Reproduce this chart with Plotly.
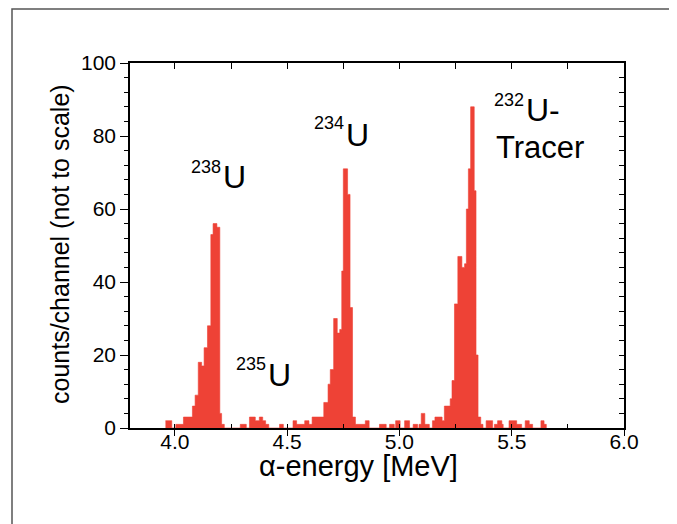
import plotly.graph_objects as go

# Alpha spectrum as a step histogram: segment start energies (MeV) and counts per channel
energy_mev = [
    3.958, 3.986, 4.004, 4.038, 4.078, 4.090, 4.104, 4.119, 4.130, 4.145,
    4.160, 4.170, 4.187, 4.200, 4.208, 4.220, 4.291, 4.318, 4.332, 4.358,
    4.376, 4.391, 4.404, 4.418, 4.466, 4.483, 4.526, 4.542, 4.578, 4.597,
    4.611, 4.663, 4.682, 4.692, 4.707, 4.723, 4.734, 4.743, 4.750, 4.769,
    4.780, 4.791, 4.804, 4.848, 4.865, 4.911, 4.941, 4.956, 4.977, 4.983,
    5.003, 5.023, 5.045, 5.061, 5.081, 5.087, 5.097, 5.113, 5.133, 5.147,
    5.158, 5.190, 5.200, 5.226, 5.234, 5.245, 5.260, 5.278, 5.290, 5.298,
    5.307, 5.317, 5.333, 5.341, 5.350, 5.362, 5.372, 5.386, 5.415, 5.423,
    5.437, 5.456, 5.462, 5.488, 5.522, 5.544, 5.560, 5.578, 5.593, 5.630,
    5.644, 5.654,
]
counts = [
    2, 0, 1, 3, 6, 9, 18, 17, 22, 28,
    53, 56, 55, 4, 1, 0, 1, 0, 3, 2,
    3, 2, 1, 0, 1, 0, 2, 1, 2, 1,
    3, 7, 12, 16, 30, 26, 27, 43, 71, 64,
    33, 3, 1, 2, 0, 1, 0, 1, 0, 2,
    0, 2, 0, 1, 0, 1, 4, 1, 0, 2,
    3, 2, 6, 8, 13, 34, 47, 44, 45, 60,
    71, 88, 65, 20, 3, 1, 0, 2, 0, 1,
    2, 1, 0, 2, 1, 0, 2, 1, 0, 2,
    1, 0,
]

x_ticks = [4.0, 4.5, 5.0, 5.5, 6.0]
x_tick_labels = ["4.0", "4.5", "5.0", "5.5", "6.0"]
y_ticks = [0, 20, 40, 60, 80, 100]
y_tick_labels = ["0", "20", "40", "60", "80", "100"]

# Isotope labels: superscript mass number + element text
iso_mass = ["238", "235", "234", "232"]
iso_elem = ["U", "U", "U", "U-"]

x_title = "α-energy [MeV]"
y_title = "counts/channel (not to scale)"
tracer_text = "Tracer"

RED = "#EE4236"
FONT = "Liberation Sans, Arial, sans-serif"

# the page places the figure 8px from the top-left corner
OFF = 8
PL, PR, PT, PB = 130, 624, 63, 428   # plot-area edges in page pixels
PW, PH = PR - PL, PB - PT


def px(xp):
    return (xp - PL) / PW


def py(yp):
    return (PB - yp) / PH


fig = go.Figure()
fig.add_trace(go.Scatter(
    x=energy_mev, y=counts, mode="lines", line_shape="hv",
    line=dict(color=RED, width=0.6), fill="tozeroy", fillcolor=RED,
    hoverinfo="skip", showlegend=False,
))
# empty trace so that the mirrored top/right axes get drawn
fig.add_trace(go.Scatter(x=[], y=[], xaxis="x2", yaxis="y2", showlegend=False))

axis_common = dict(showgrid=False, zeroline=False, showline=True,
                   linecolor="black", linewidth=1.5)

fig.update_layout(
    width=677 - OFF, height=524 - OFF,
    margin=dict(l=PL - OFF, r=677 - PR, t=PT - OFF, b=524 - PB),
    paper_bgcolor="white", plot_bgcolor="white",
    font=dict(family=FONT, color="black"),
    xaxis=dict(
        range=[3.8, 6.0], tickmode="array", tickvals=x_ticks, ticktext=x_tick_labels,
        ticks="outside", ticklen=6, tickwidth=1.3, tickcolor="black",
        tickfont=dict(size=21, family=FONT), ticklabelstandoff=-12,
        minor=dict(dtick=0.25, tick0=4.0, ticks="inside", ticklen=4,
                   tickwidth=1.3, tickcolor="black", showgrid=False),
        **axis_common,
    ),
    yaxis=dict(
        range=[0, 100], tickmode="array", tickvals=y_ticks, ticktext=y_tick_labels,
        ticks="outside", ticklen=8, tickwidth=1.3, tickcolor="black",
        tickfont=dict(size=21, family=FONT),
        minor=dict(dtick=4, tick0=0, ticks="outside", ticklen=4,
                   tickwidth=1.3, tickcolor="black", showgrid=False),
        **axis_common,
    ),
    xaxis2=dict(
        range=[3.8, 6.0], overlaying="x", side="top", anchor="y",
        tick0=4.0, dtick=0.25, ticks="inside", ticklen=6, tickwidth=1.3,
        tickcolor="black", showticklabels=False, **axis_common,
    ),
    yaxis2=dict(
        range=[0, 100], overlaying="y", side="right", anchor="x",
        tick0=0, dtick=4, ticks="inside", ticklen=5, tickwidth=1.3,
        tickcolor="black", showticklabels=False, **axis_common,
    ),
)

# outer frame
fig.add_shape(type="rect", xref="paper", yref="paper",
              x0=px(12), x1=px(672), y0=py(540), y1=py(9),
              line=dict(color="#555555", width=1.5), layer="below")

# label positions (energy, count) at the boundary between mass number and element
label_x = [4.209, 4.409, 4.756, 5.558]
sup_y = [71.5, 17.5, 83.7, 89.9]
elem_y = [68.9, 14.4, 80.4, 87.1]
for m, el, lx, sy, ey in zip(iso_mass, iso_elem, label_x, sup_y, elem_y):
    fig.add_annotation(x=lx, y=sy, text=m, showarrow=False, xanchor="right",
                       yanchor="middle", font=dict(size=18, family=FONT),
                       borderpad=0)
    fig.add_annotation(x=lx, y=ey, text=el, showarrow=False, xanchor="left",
                       yanchor="middle", font=dict(size=32, family=FONT),
                       borderpad=0)
fig.add_annotation(x=5.424, y=76.8, text=tracer_text, showarrow=False,
                   xanchor="left", yanchor="middle",
                   font=dict(size=31, family=FONT), borderpad=0)

# axis titles
fig.add_annotation(xref="paper", yref="paper", x=px(358), y=py(466),
                   text=x_title, showarrow=False,
                   xanchor="center", yanchor="middle",
                   font=dict(size=29, family=FONT))
fig.add_annotation(xref="paper", yref="paper", x=px(60), y=py(244),
                   text=y_title, showarrow=False,
                   textangle=-90, xanchor="center", yanchor="middle",
                   font=dict(size=25, family=FONT))

fig.write_html("out.html")
